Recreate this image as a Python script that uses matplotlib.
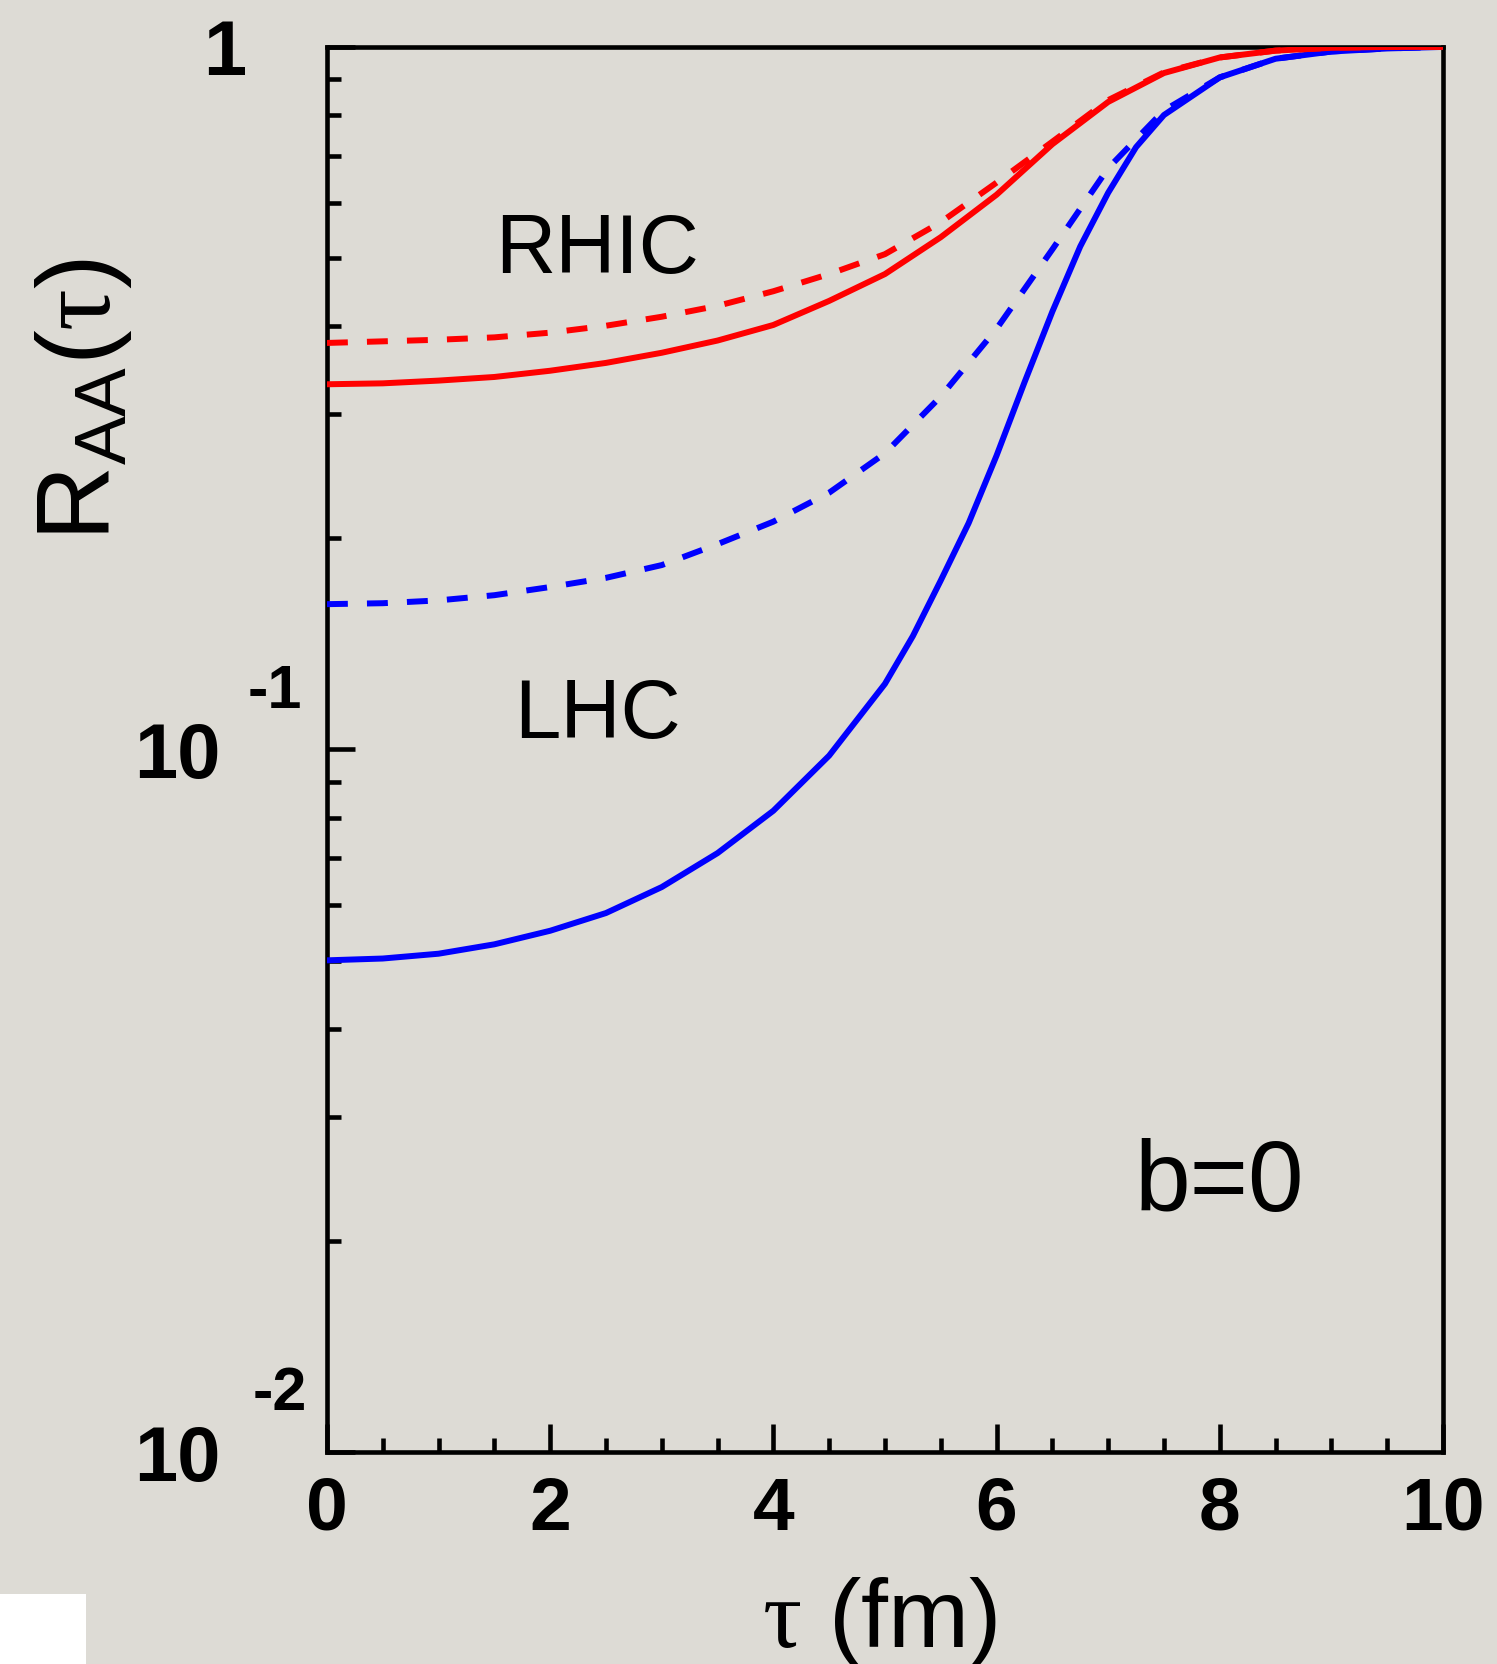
import numpy as np
import matplotlib
matplotlib.use('Agg')
import matplotlib.pyplot as plt
from matplotlib import font_manager, transforms
from matplotlib.patches import Rectangle
from matplotlib.ticker import MultipleLocator, LogLocator, NullFormatter

# R_AA(tau) curves
tau_lhc = [0, 0.5, 1, 1.5, 2, 2.5, 3, 3.5, 4, 4.5, 5, 5.25, 5.5, 5.75, 6, 6.25,
           6.5, 6.75, 7, 7.25, 7.5, 8, 8.5, 9, 9.5, 10]
lhc_solid = [0.0501, 0.0504, 0.0512, 0.0528, 0.0552, 0.0585, 0.0637, 0.0712, 0.0818,
             0.098, 0.124, 0.145, 0.174, 0.21, 0.262, 0.333, 0.42, 0.52, 0.62,
             0.72, 0.80, 0.905, 0.962, 0.985, 0.995, 1.0]

tau = [0, 0.5, 1, 1.5, 2, 2.5, 3, 3.5, 4, 4.5, 5, 5.5, 6, 6.5, 7, 7.5, 8, 8.5, 9, 9.5, 10]
lhc_dashed = [0.161, 0.1615, 0.163, 0.1658, 0.1703, 0.1755, 0.183, 0.196, 0.211, 0.232,
              0.264, 0.318, 0.397, 0.515, 0.672, 0.812, 0.905, 0.962, 0.985, 0.995, 1.0]
rhic_solid = [0.331, 0.332, 0.335, 0.339, 0.346, 0.355, 0.367, 0.382, 0.402, 0.435,
              0.475, 0.536, 0.616, 0.727, 0.835, 0.918, 0.966, 0.988, 0.997, 1.0, 1.0]
rhic_dashed = [0.379, 0.381, 0.383, 0.386, 0.392, 0.401, 0.413, 0.428, 0.449, 0.475,
               0.507, 0.563, 0.641, 0.733, 0.84, 0.92, 0.966, 0.988, 0.997, 1.0, 1.0]

xticks = [0, 2, 4, 6, 8, 10]
xticklabels = ['0', '2', '4', '6', '8', '10']

bg = '#dddbd5'
plt.rcParams['font.family'] = 'Liberation Sans'
plt.rcParams['mathtext.fontset'] = 'custom'
plt.rcParams['mathtext.rm'] = 'Liberation Sans'
plt.rcParams['mathtext.it'] = 'Liberation Serif'
plt.rcParams['mathtext.bf'] = 'Liberation Sans:bold'

names = {f.name for f in font_manager.fontManager.ttflist}
narrow = 'Liberation Sans Narrow' if 'Liberation Sans Narrow' in names else 'Liberation Sans'

fig = plt.figure(figsize=(14.97, 16.64), dpi=100)
fig.patch.set_facecolor(bg)
ax = fig.add_axes([0.2184, 0.1274, 0.7455, 0.8444])
ax.set_facecolor(bg)

lw = 4.3
dash = (0, (3.5, 3.2))
ax.plot(tau_lhc, lhc_solid, color='#0000ff', lw=lw, zorder=3)
ax.plot(tau, lhc_dashed, color='#0000ff', lw=lw, ls=dash, zorder=3)
ax.plot(tau, rhic_solid, color='#ff0000', lw=lw, zorder=3)
ax.plot(tau, rhic_dashed, color='#ff0000', lw=lw, ls=dash, zorder=3)

ax.set_yscale('log')
ax.set_xlim(0, 10)
ax.set_ylim(0.01, 1)
ax.set_xticks(xticks)
ax.set_xticklabels(xticklabels, fontsize=54, fontweight='bold')
ax.xaxis.set_minor_locator(MultipleLocator(0.5))
ax.set_yticks([0.01, 0.1, 1])
ax.set_yticklabels([])
ax.yaxis.set_minor_locator(LogLocator(base=10, subs=np.arange(2, 10)))
ax.yaxis.set_minor_formatter(NullFormatter())
ax.tick_params(which='both', direction='in', top=False, right=False, width=3.3, color='black')
ax.tick_params(which='major', length=20)
ax.tick_params(which='minor', length=10)
ax.tick_params(axis='x', pad=17)
for sp in ax.spines.values():
    sp.set_linewidth(3.3)

# y tick labels written by hand: 1, 10^-1, 10^-2
ytr = ax.get_yaxis_transform()
up = transforms.offset_copy(ytr, fig=fig, y=46, units='points')
ax.text(-0.0914, 1, '1', transform=ytr, ha='center', va='center_baseline',
        fontsize=56, fontweight='bold', clip_on=False)
for val, exp, xe in [(0.1, '-1', -0.0466), (0.01, '-2', -0.0421)]:
    ax.text(-0.1344, val, '10', transform=ytr, ha='center', va='center_baseline',
            fontsize=56, fontweight='bold', clip_on=False)
    ax.text(xe, val, exp, transform=up, ha='center', va='center_baseline',
            fontsize=44, fontweight='bold', clip_on=False)

ax.text(2.42, 0.477, 'RHIC', ha='center', va='baseline', fontsize=60)
ax.text(2.42, 0.1037, 'LHC', ha='center', va='baseline', fontsize=60)
ax.text(8.0, 0.02205, 'b=0', ha='center', va='baseline', fontsize=72)

fig.text(110 / 1497, 1 - 400 / 1664, r'$\mathrm{R_{AA}(}\tau\mathrm{)}$', rotation=90,
         rotation_mode='anchor', ha='center', va='baseline', fontsize=75)
fig.text(879 / 1497, 1 - 1647 / 1664, r'$\tau$ (fm)', ha='center', va='baseline',
         fontsize=70, family=narrow)

fig.patches.append(Rectangle((0, 0), 86 / 1497, 70 / 1664, transform=fig.transFigure,
                             facecolor='white', edgecolor='none', zorder=5))

fig.savefig('out.png', dpi=100, facecolor=fig.get_facecolor())
